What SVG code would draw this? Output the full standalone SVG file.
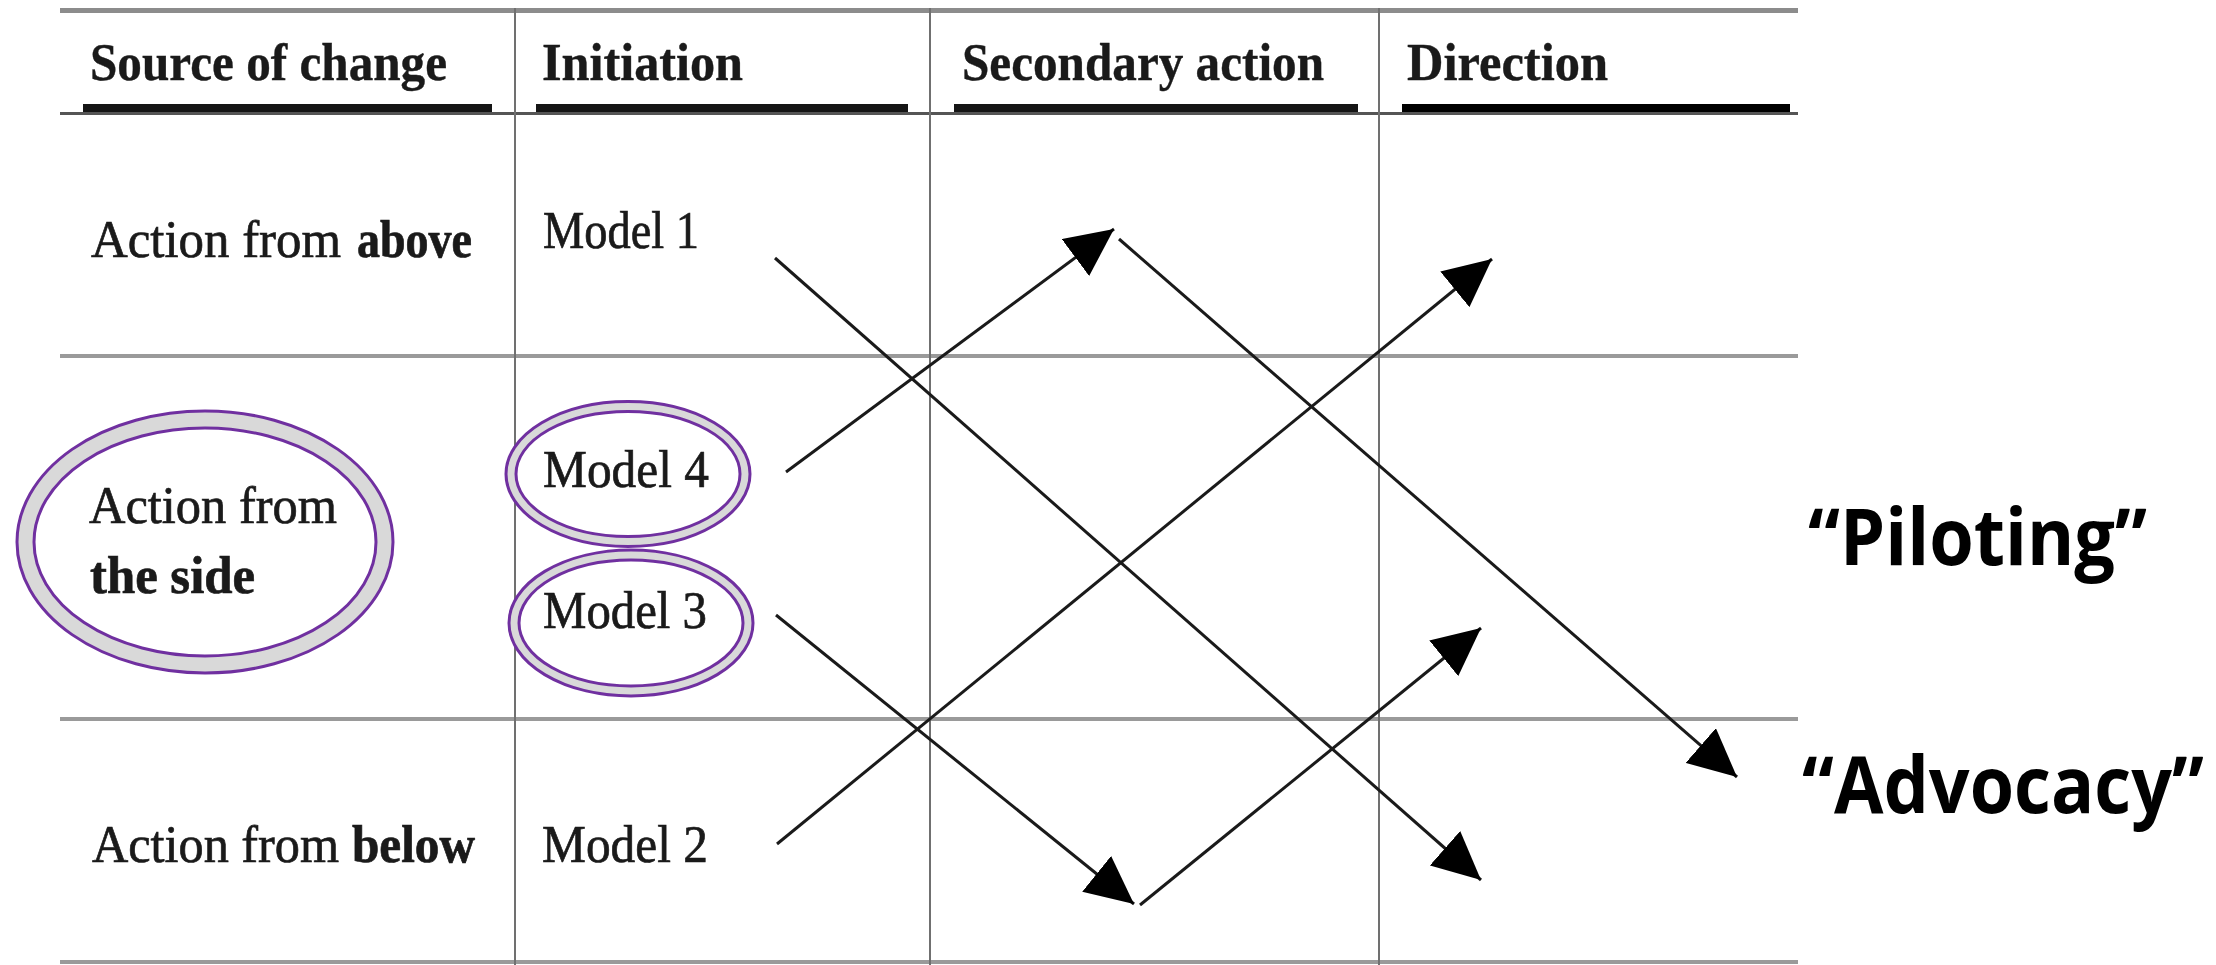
<svg xmlns="http://www.w3.org/2000/svg" width="2216" height="965" viewBox="0 0 2216 965">
<style>
.tbl{font-family:"Liberation Serif","DejaVu Serif",serif;font-size:53px;fill:#1a1a1a;stroke:#1a1a1a;stroke-width:0.7}
.hd{font-weight:bold;stroke-width:0.4}
.b{font-weight:bold}
.lbl{font-family:"Open Sans","Noto Sans","Liberation Sans",sans-serif;font-size:78px;font-weight:bold;fill:#000}
.grid{stroke:#707070;stroke-width:2}
.row{stroke:#9a9a9a;stroke-width:4}
.band{fill:none;stroke:#d9d9d9}
.ring{fill:none;stroke:#7030a0;stroke-width:3}
.arrow{stroke:#1a1a1a;stroke-width:3;fill:none;marker-end:url(#ah)}
</style>
<defs>
<marker id="ah" markerUnits="userSpaceOnUse" markerWidth="48" markerHeight="46" refX="48" refY="23" orient="auto">
<path d="M0,0 L48,23 L0,46 z" fill="#000"/>
</marker>
</defs>
<rect width="2216" height="965" fill="#fff"/>
<g id="table">
<line x1="60" y1="10.5" x2="1798" y2="10.5" stroke="#8c8c8c" stroke-width="5"/>
<line x1="60" y1="113.5" x2="1798" y2="113.5" stroke="#555" stroke-width="3"/>
<g stroke="#151515" stroke-width="8">
<line x1="83" y1="108" x2="492" y2="108"/>
<line x1="536" y1="108" x2="908" y2="108"/>
<line x1="954" y1="108" x2="1358" y2="108"/>
<line x1="1402" y1="108" x2="1790" y2="108" stroke="#000"/>
</g>
<line class="row" x1="60" y1="356" x2="1798" y2="356"/>
<line class="row" x1="60" y1="719" x2="1798" y2="719" stroke-width="5"/>
<line class="row" x1="60" y1="962" x2="1798" y2="962" stroke-width="5"/>
<line class="grid" x1="515" y1="8" x2="515" y2="965"/>
<line class="grid" x1="930" y1="8" x2="930" y2="965"/>
<line class="grid" x1="1379" y1="8" x2="1379" y2="965"/>
</g>
<g id="headers" class="tbl hd">
<text x="90" y="80" textLength="357" lengthAdjust="spacingAndGlyphs">Source of change</text>
<text x="542" y="80" textLength="201" lengthAdjust="spacingAndGlyphs">Initiation</text>
<text x="962" y="80" textLength="362" lengthAdjust="spacingAndGlyphs">Secondary action</text>
<text x="1407" y="80" textLength="201" lengthAdjust="spacingAndGlyphs">Direction</text>
</g>
<g id="above" class="tbl">
<text x="91" y="257" textLength="250" lengthAdjust="spacingAndGlyphs">Action from</text>
<text class="b" x="357" y="257" textLength="115" lengthAdjust="spacingAndGlyphs">above</text>
</g>
<g id="side">
<ellipse class="band" cx="205" cy="542" rx="179.5" ry="122.5" stroke-width="17"/>
<ellipse class="ring" cx="205" cy="542" rx="188" ry="131"/>
<ellipse class="ring" cx="205" cy="542" rx="171" ry="114"/>
<text class="tbl" x="89" y="523" textLength="248" lengthAdjust="spacingAndGlyphs">Action from</text>
<text class="tbl b" x="90" y="593" textLength="165" lengthAdjust="spacingAndGlyphs">the side</text>
</g>
<g id="below" class="tbl">
<text x="92" y="862" textLength="247" lengthAdjust="spacingAndGlyphs">Action from</text>
<text class="b" x="352" y="862" textLength="123" lengthAdjust="spacingAndGlyphs">below</text>
</g>
<g id="model1" class="tbl">
<text x="543" y="248" textLength="156" lengthAdjust="spacingAndGlyphs">Model 1</text>
</g>
<g id="model4">
<ellipse class="band" cx="628" cy="474" rx="117" ry="67.5" stroke-width="10"/>
<ellipse class="ring" cx="628" cy="474" rx="122" ry="72.5"/>
<ellipse class="ring" cx="628" cy="474" rx="112" ry="62.5"/>
<text class="tbl" x="543" y="487" textLength="166" lengthAdjust="spacingAndGlyphs">Model 4</text>
</g>
<g id="model3">
<ellipse class="band" cx="631" cy="623" rx="117" ry="68" stroke-width="10"/>
<ellipse class="ring" cx="631" cy="623" rx="122" ry="73"/>
<ellipse class="ring" cx="631" cy="623" rx="112" ry="63"/>
<text class="tbl" x="543" y="628" textLength="164" lengthAdjust="spacingAndGlyphs">Model 3</text>
</g>
<g id="model2" class="tbl">
<text x="542" y="862" textLength="166" lengthAdjust="spacingAndGlyphs">Model 2</text>
</g>
<g id="connectors">
<line class="arrow" x1="775" y1="258" x2="1481" y2="880"/>
<line class="arrow" x1="786" y1="472" x2="1114" y2="229"/>
<line class="arrow" x1="1119" y1="239" x2="1737" y2="777"/>
<line class="arrow" x1="777" y1="844" x2="1492" y2="259"/>
<line class="arrow" x1="776" y1="615" x2="1134" y2="904"/>
<line class="arrow" x1="1140" y1="905" x2="1481" y2="628"/>
</g>
<g id="piloting">
<text class="lbl" x="1808" y="565" textLength="339" lengthAdjust="spacingAndGlyphs">“Piloting”</text>
</g>
<g id="advocacy">
<text class="lbl" transform="translate(1802,813) scale(0.92,1)" x="0" y="0">“Advocacy”</text>
</g>
</svg>
